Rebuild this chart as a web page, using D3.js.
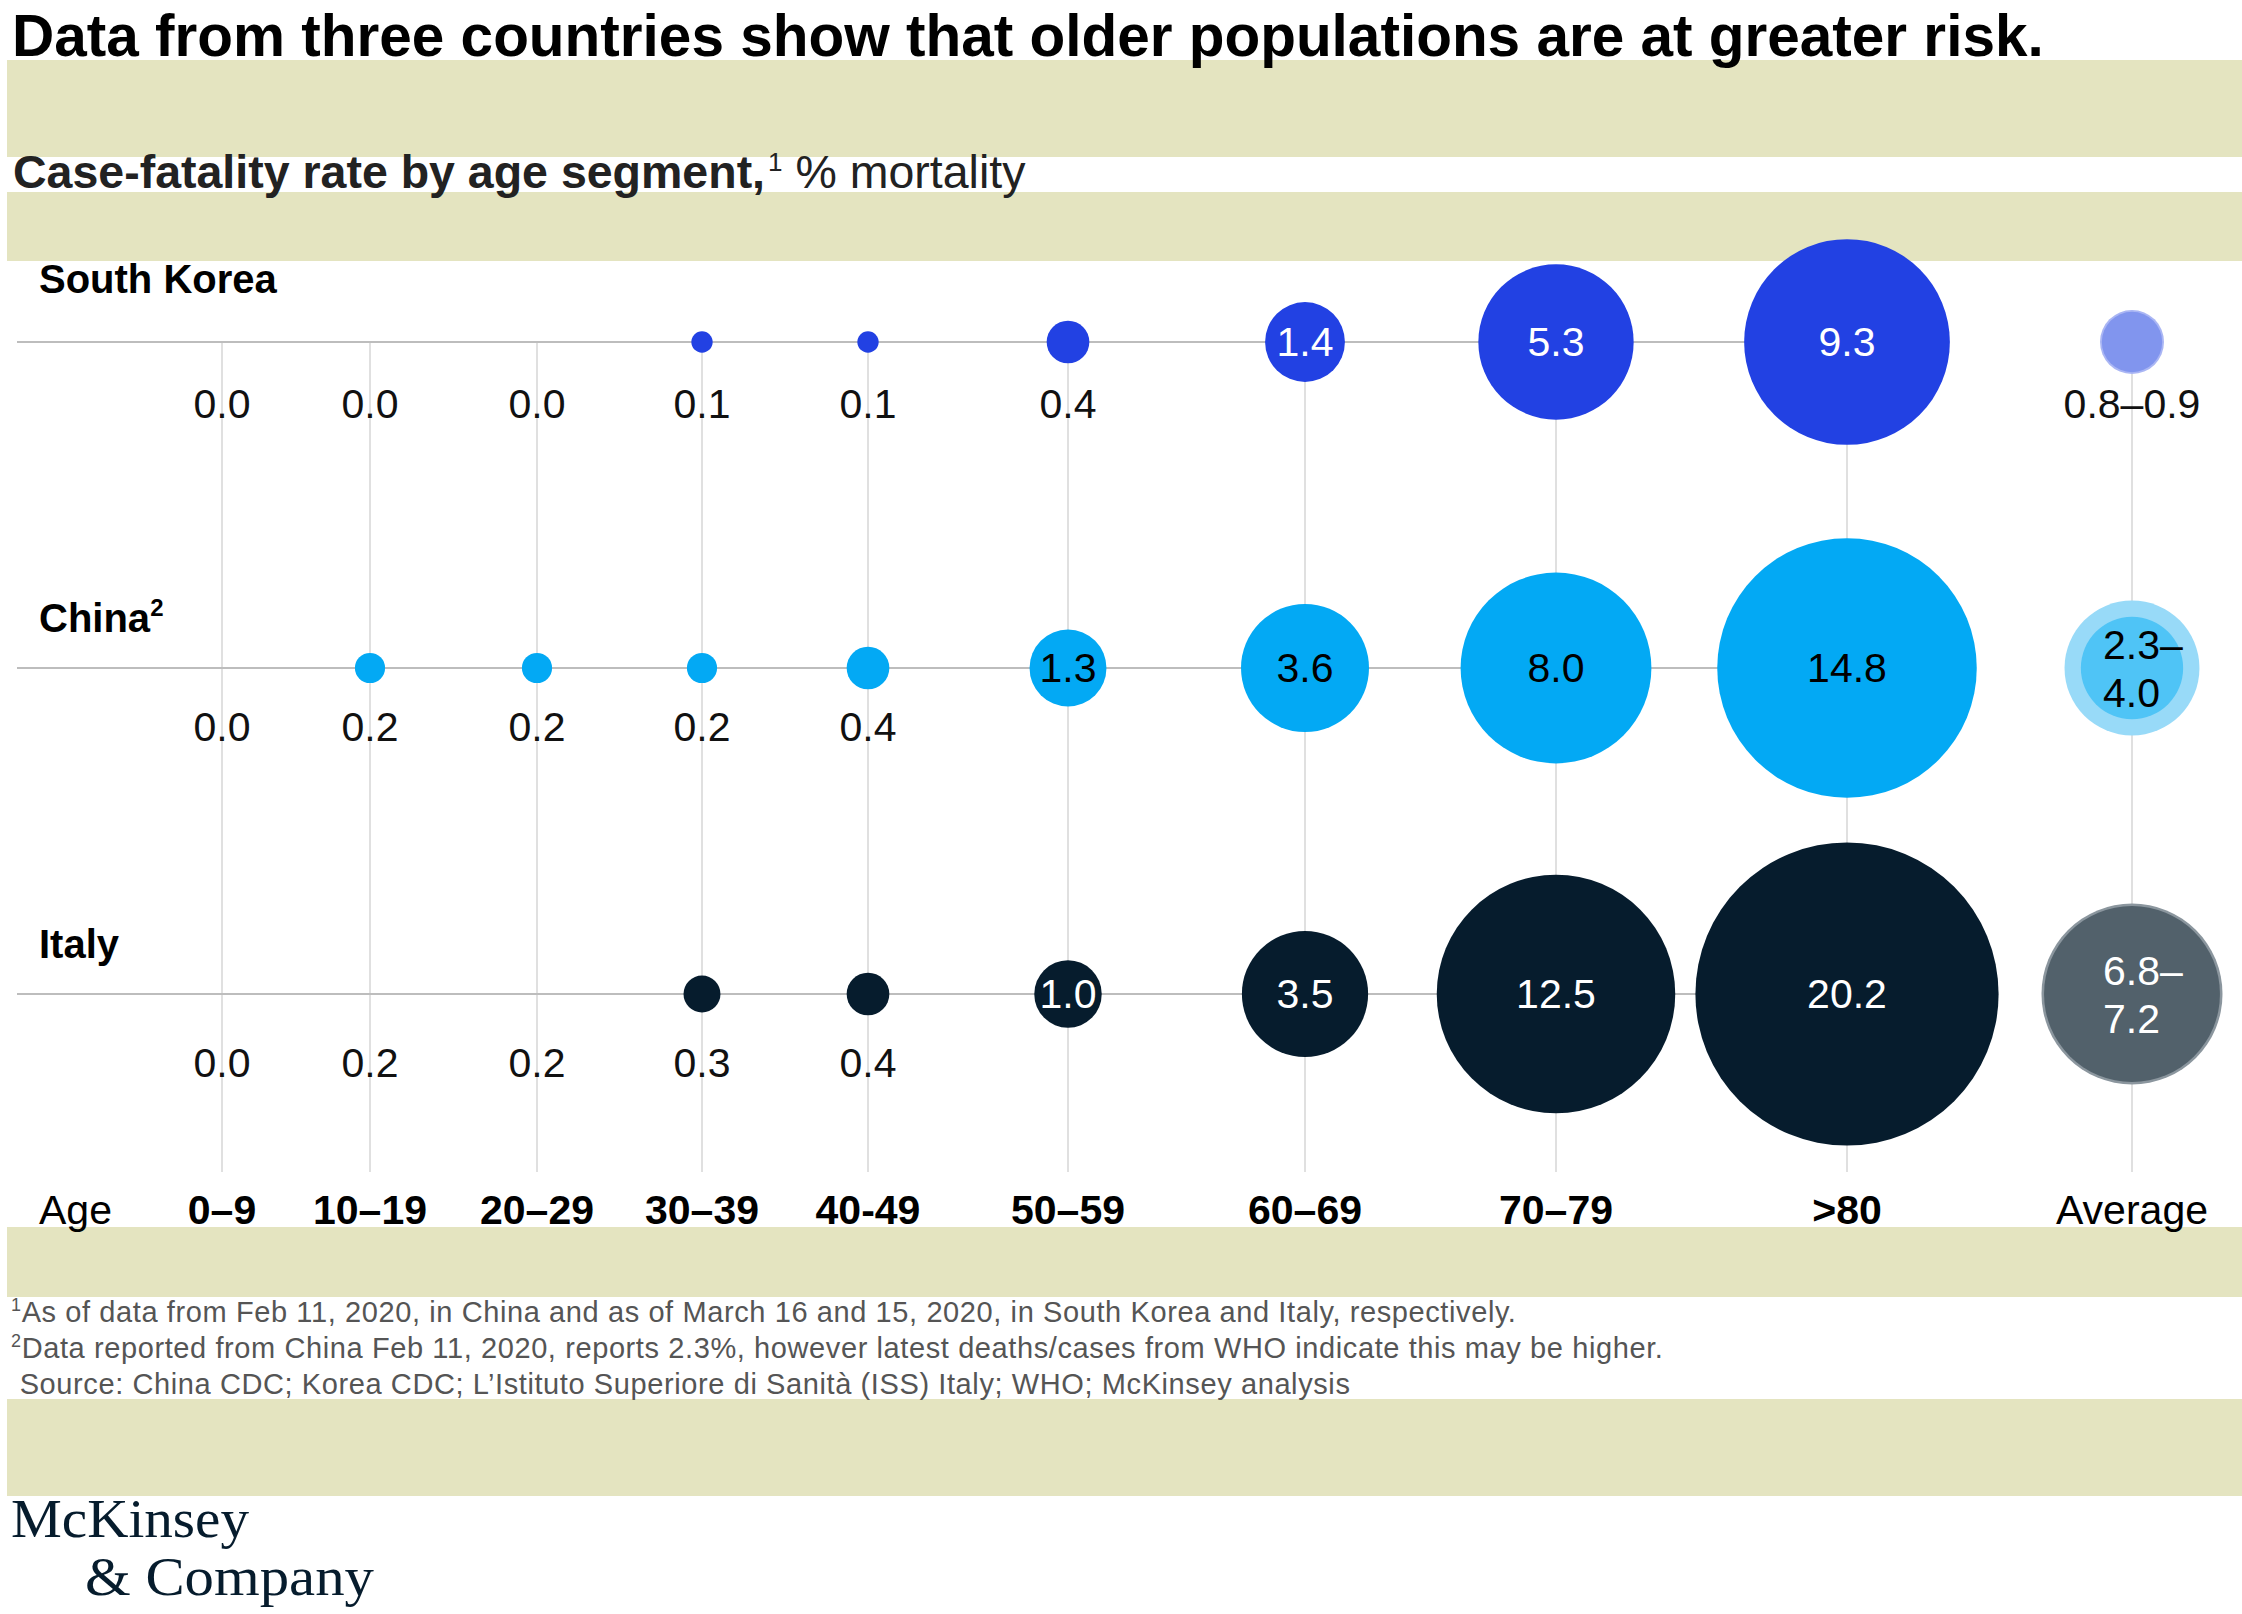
<!DOCTYPE html>
<html>
<head>
<meta charset="utf-8">
<script src="https://cdn.jsdelivr.net/npm/d3@7"></script>
<style>
  html, body { margin: 0; padding: 0; background: #fff; }
  svg { display: block; }
  text { font-family: 'Liberation Sans', Arial, sans-serif; }
</style>
</head>
<body>
<div id="chart"></div>
<script>
// values
var ageGroups = [ '0–9', '10–19', '20–29', '30–39', '40-49', '50–59', '60–69', '70–79', '>80' ];
var countries = [ 'South Korea', 'China', 'Italy' ];

var southKorea = [ 0.0, 0.0, 0.0, 0.1, 0.1, 0.4, 1.4, 5.3, 9.3 ];
var china      = [ 0.0, 0.2, 0.2, 0.2, 0.4, 1.3, 3.6, 8.0, 14.8 ];
var italy      = [ 0.0, 0.2, 0.2, 0.3, 0.4, 1.0, 3.5, 12.5, 20.2 ];

var averageLow  = [ 0.8, 2.3, 6.8 ];
var averageHigh = [ 0.9, 4.0, 7.2 ];

// in the original these Italy values are labelled but get no bubble
var italyNoBubble = [ '10–19', '20–29' ];

var title    = 'Data from three countries show that older populations are at greater risk.';
var footnotes = [
  { mark: '1', text: 'As of data from Feb 11, 2020, in China and as of March 16 and 15, 2020, in South Korea and Italy, respectively.' },
  { mark: '2', text: 'Data reported from China Feb 11, 2020, reports 2.3%, however latest deaths/cases from WHO indicate this may be higher.' },
  { mark: '',  text: ' Source: China CDC; Korea CDC; L’Istituto Superiore di Sanità (ISS) Italy; WHO; McKinsey analysis' }
];


var width  = 2242,
    height = 1614,
    band   = '#e4e4c0',
    gridBottom = 1172,

    columns = ageGroups.concat( [ 'Average' ] ),
    // hand-spaced columns, wider where bubbles get big
    columnX = [ 222, 370, 537, 702, 868, 1068, 1305, 1556, 1847, 2132 ],

    x = d3.scaleOrdinal( columns, columnX ),
    y = d3.scalePoint( countries, [ 342, 994 ] ),
    r = d3.scaleSqrt().domain( [ 0, 20.2 ] ).range( [ 0, 151.6 ] ),
    fmt = d3.format( '.1f' ),

    style = {
      'South Korea' : { fill: '#2241e3', text: '#fff', low: '#8195ee', high: '#aab6f4', avgText: '#111', nameDy: -49, labelDy: 76 },
      'China'       : { fill: '#03a9f4', text: '#000', low: '#4fc4f6', high: '#98daf8', avgText: '#000', nameDy: -36, labelDy: 73 },
      'Italy'       : { fill: '#061c2d', text: '#fff', low: '#52616b', high: '#8b969e', avgText: '#fff', nameDy: -36, labelDy: 83 }
    },

    rows = countries.map( function( c, i ) {
      return {
        country : c,
        values  : [ southKorea, china, italy ][ i ],
        low     : averageLow[ i ],
        high    : averageHigh[ i ]
      };
    } );

var svg = d3.select( '#chart' ).append( 'svg' )
            .attr( 'width', width )
            .attr( 'height', height );

svg.append( 'rect' )
   .attr( 'width', width )
   .attr( 'height', height )
   .attr( 'fill', '#fff' );

// olive bands
[ [ 60, 157 ], [ 192, 261 ], [ 1227, 1297 ], [ 1399, 1496 ] ].forEach( function( b ) {
  svg.append( 'rect' )
     .attr( 'x', 7 )
     .attr( 'y', b[ 0 ] )
     .attr( 'width', width - 7 )
     .attr( 'height', b[ 1 ] - b[ 0 ] )
     .attr( 'fill', band );
} );

// title + subtitle
svg.append( 'text' )
   .attr( 'x', 12 )
   .attr( 'y', 56 )
   .attr( 'font-size', 58.5 )
   .attr( 'font-weight', 'bold' )
   .attr( 'fill', '#000' )
   .text( title );

var sub = svg.append( 'text' )
             .attr( 'x', 13 )
             .attr( 'y', 188 )
             .attr( 'font-size', 46.5 )
             .attr( 'fill', '#222' );
sub.append( 'tspan' ).attr( 'font-weight', 'bold' ).text( 'Case-fatality rate by age segment,' );
sub.append( 'tspan' ).attr( 'font-size', 26 ).attr( 'dy', -17 ).attr( 'dx', 3 ).text( '1' );
sub.append( 'tspan' ).attr( 'dy', 17 ).text( ' % mortality' );

// grid
var grid = svg.append( 'g' ).attr( 'class', 'grid' );

grid.selectAll( '.vline' )
    .data( columns )
    .enter().append( 'line' )
    .attr( 'class', 'vline' )
    .attr( 'x1', function( d ) { return x( d ); } )
    .attr( 'x2', function( d ) { return x( d ); } )
    .attr( 'y1', y( countries[ 0 ] ) )
    .attr( 'y2', gridBottom )
    .attr( 'stroke', '#d6d6d6' )
    .attr( 'stroke-width', 1.5 );

grid.selectAll( '.hline' )
    .data( countries )
    .enter().append( 'line' )
    .attr( 'class', 'hline' )
    .attr( 'x1', 17 )
    .attr( 'x2', x( '>80' ) )
    .attr( 'y1', function( d ) { return y( d ); } )
    .attr( 'y2', function( d ) { return y( d ); } )
    .attr( 'stroke', '#bdbdbd' )
    .attr( 'stroke-width', 2 );

// rows
var row = svg.selectAll( '.row' )
             .data( rows )
             .enter().append( 'g' )
             .attr( 'class', 'row' )
             .attr( 'transform', function( d ) { return 'translate(0,' + y( d.country ) + ')'; } );

row.append( 'text' )
   .attr( 'x', 39 )
   .attr( 'y', function( d ) { return style[ d.country ].nameDy; } )
   .attr( 'font-size', 40 )
   .attr( 'font-weight', 'bold' )
   .attr( 'fill', '#000' )
   .each( function( d ) {
     var t = d3.select( this );
     t.append( 'tspan' ).text( d.country );
     if ( d.country === 'China' ) {
       t.append( 'tspan' ).attr( 'font-size', 24 ).attr( 'dy', -16 ).text( '2' );
     }
   } );

row.each( function( d ) {
  var g = d3.select( this ),
      s = style[ d.country ],
      cells = ageGroups.map( function( a, i ) {
        return { age: a, value: d.values[ i ] };
      } );

  g.selectAll( '.bubble' )
   .data( cells.filter( function( c ) {
     return c.value > 0 && !( d.country === 'Italy' && italyNoBubble.indexOf( c.age ) > -1 );
   } ) )
   .enter().append( 'circle' )
   .attr( 'class', 'bubble' )
   .attr( 'cx', function( c ) { return x( c.age ); } )
   .attr( 'cy', 0 )
   .attr( 'r', function( c ) { return r( c.value ); } )
   .attr( 'fill', s.fill );

  g.selectAll( '.value' )
   .data( cells )
   .enter().append( 'text' )
   .attr( 'class', 'value' )
   .attr( 'x', function( c ) { return x( c.age ); } )
   .attr( 'y', function( c ) { return c.value >= 1 ? 14 : s.labelDy; } )
   .attr( 'text-anchor', 'middle' )
   .attr( 'font-size', 41 )
   .attr( 'fill', function( c ) { return c.value >= 1 ? s.text : '#111'; } )
   .text( function( c ) { return fmt( c.value ); } );

  // average range: two stacked bubbles
  var ax = x( 'Average' );
  g.append( 'circle' ).attr( 'cx', ax ).attr( 'r', r( d.high ) ).attr( 'fill', s.high );
  g.append( 'circle' ).attr( 'cx', ax ).attr( 'r', r( d.low ) ).attr( 'fill', s.low );

  if ( d.high < 1 ) {
    g.append( 'text' )
     .attr( 'x', ax )
     .attr( 'y', s.labelDy )
     .attr( 'text-anchor', 'middle' )
     .attr( 'font-size', 41 )
     .attr( 'fill', '#111' )
     .text( fmt( d.low ) + '–' + fmt( d.high ) );
  } else {
    var t = g.append( 'text' )
             .attr( 'font-size', 41 )
             .attr( 'fill', s.avgText );
    t.append( 'tspan' ).attr( 'x', ax - 29 ).attr( 'y', -9 ).text( fmt( d.low ) + '–' );
    t.append( 'tspan' ).attr( 'x', ax - 29 ).attr( 'y', 39 ).text( fmt( d.high ) );
  }
} );

// age axis
svg.append( 'text' )
   .attr( 'x', 39 )
   .attr( 'y', 1224 )
   .attr( 'font-size', 41 )
   .attr( 'fill', '#000' )
   .text( 'Age' );

svg.selectAll( '.age' )
   .data( columns )
   .enter().append( 'text' )
   .attr( 'class', 'age' )
   .attr( 'x', function( d ) { return x( d ); } )
   .attr( 'y', 1224 )
   .attr( 'text-anchor', 'middle' )
   .attr( 'font-size', 41 )
   .attr( 'font-weight', function( d ) { return d === 'Average' ? 'normal' : 'bold'; } )
   .attr( 'fill', '#000' )
   .text( function( d ) { return d; } );

// footnotes
svg.selectAll( '.note' )
   .data( footnotes )
   .enter().append( 'text' )
   .attr( 'class', 'note' )
   .attr( 'x', 11 )
   .attr( 'y', function( d, i ) { return 1322 + i * 36; } )
   .attr( 'font-size', 29 )
   .attr( 'letter-spacing', 0.6 )
   .attr( 'fill', '#555' )
   .each( function( d ) {
     var t = d3.select( this );
     if ( d.mark ) {
       t.append( 'tspan' ).attr( 'font-size', 18 ).attr( 'dy', -11 ).text( d.mark );
       t.append( 'tspan' ).attr( 'dy', 11 ).text( d.text );
     } else {
       t.append( 'tspan' ).attr( 'xml:space', 'preserve' ).text( d.text );
     }
   } );

// logo
var logo = svg.append( 'g' )
              .attr( 'fill', '#061c2d' );
logo.append( 'text' )
    .attr( 'x', 11 ).attr( 'y', 1537 )
    .attr( 'font-size', 55 )
    .attr( 'textLength', 238 )
    .attr( 'lengthAdjust', 'spacingAndGlyphs' )
    .style( 'font-family', "'Liberation Serif', serif" )
    .text( 'McKinsey' );
logo.append( 'text' )
    .attr( 'x', 85 ).attr( 'y', 1595 )
    .attr( 'font-size', 55 )
    .attr( 'textLength', 289 )
    .attr( 'lengthAdjust', 'spacingAndGlyphs' )
    .style( 'font-family', "'Liberation Serif', serif" )
    .text( '& Company' );
</script>
</body>
</html>
